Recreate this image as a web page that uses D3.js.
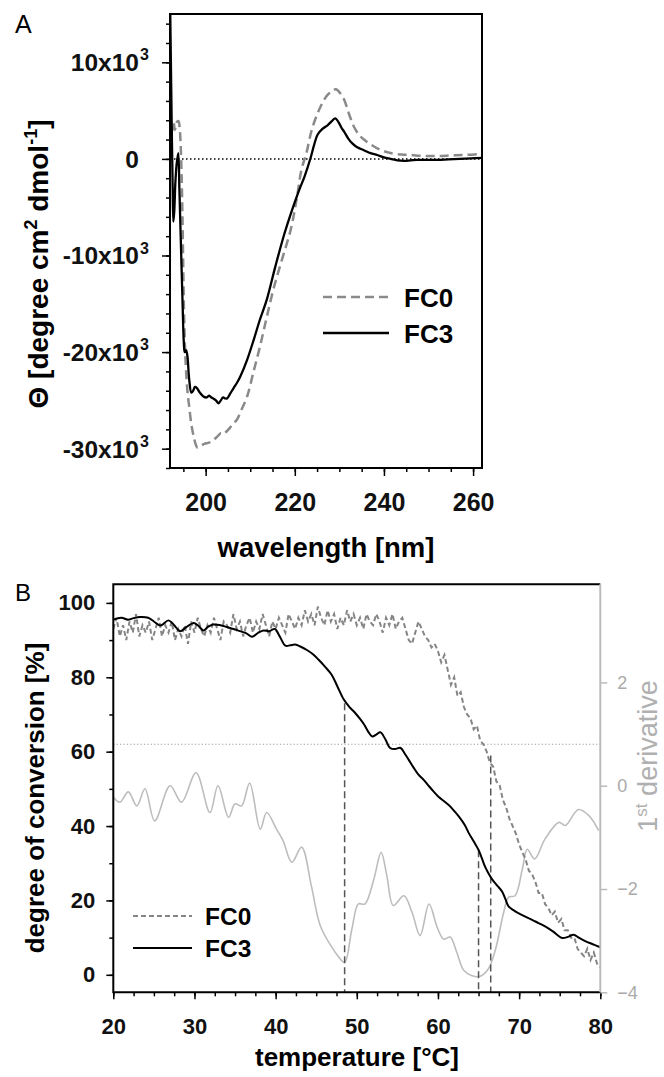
<!DOCTYPE html>
<html>
<head>
<meta charset="utf-8">
<script src="https://cdn.jsdelivr.net/npm/d3@7"></script>
<style>
  body { margin: 0; background: #fff; }
  svg { display: block; }
</style>
</head>
<body>
<script>
// ---- panel A: CD spectra (wavelength nm, theta) ----
const fc3Wl = [192.0, 192.2, 192.4, 192.6, 192.75, 192.95, 193.2, 193.5, 193.85, 194.1, 194.4, 194.8, 195.1, 195.3, 195.6, 195.9, 196.3, 196.8, 197.2, 197.6, 198.0, 198.7, 199.5, 200.2, 200.8, 201.3, 201.7, 202.3, 202.9, 203.4, 203.9, 204.4, 204.8, 205.5, 206.3, 207.0, 207.8, 209.3, 210.8, 212.2, 213.7, 215.6, 217.7, 219.9, 221.0, 222.2, 223.6, 224.3, 225.1, 226.2, 227.4, 228.3, 229.1, 229.8, 230.5, 231.1, 232.0, 232.9, 234.0, 235.5, 237.0, 238.5, 240.0, 241.5, 243.0, 244.5, 246.0, 247.5, 249.5, 252.0, 254.5, 257.0, 259.5, 262.0]
const fc3Theta = [17000, 10000, 3000, -3000, -6500, -5500, -2500, -500, 600, -3000, -8000, -14600, -19000, -20000, -19800, -20400, -22800, -24200, -24000, -23600, -23700, -24200, -24600, -24700, -24500, -24700, -24800, -25000, -25300, -25000, -24700, -24800, -24800, -24300, -23700, -23200, -22500, -20800, -18700, -16600, -14600, -11200, -7700, -4600, -3200, -1800, 200, 1400, 2500, 3100, 3500, 3900, 4200, 3800, 3200, 2800, 2100, 1600, 1200, 900, 600, 400, 150, 0, -150, -200, -150, -100, -100, -100, -50, 0, 50, 100]

const fc0Wl = [192.2, 192.5, 192.8, 193.1, 193.5, 193.9, 194.2, 194.5, 194.8, 195.0, 195.2, 195.5, 195.9, 196.3, 196.8, 197.3, 197.8, 198.2, 198.9, 199.7, 200.5, 201.2, 202.0, 202.7, 203.4, 203.9, 204.5, 205.5, 206.2, 207.0, 208.0, 209.3, 210.7, 212.2, 213.7, 215.2, 217.2, 219.1, 220.4, 221.5, 222.6, 223.8, 225.1, 226.2, 227.3, 228.3, 229.2, 230.2, 231.1, 232.2, 233.3, 234.4, 235.5, 237.0, 238.5, 240.0, 241.5, 244.0, 246.0, 249.0, 252.0, 255.0, 258.0, 262.0]
const fc0Theta = [2500, 3000, 3800, 3000, 3800, 3900, 3000, 0, -6000, -12000, -17000, -21000, -24000, -25600, -27500, -28700, -29600, -29900, -29700, -29500, -29400, -29300, -29000, -28700, -28400, -28500, -28300, -27800, -27400, -27000, -26000, -24600, -22100, -19400, -16400, -13500, -10300, -7300, -4200, -1100, 600, 3000, 4700, 5800, 6600, 7000, 7200, 6800, 6100, 4600, 3300, 2500, 2000, 1500, 1100, 800, 600, 450, 400, 300, 300, 350, 400, 500]

const aYTicks = [-30000, -20000, -10000, 0, 10000]
const aXTicks = [200, 220, 240, 260]
const legendNames = ['FC0', 'FC3']

// ---- panel B: melting curves (temperature C) ----
const fc0Temp = d3.range(20, 80.001, 0.4)
const fc0Conv = [
  93, 96, 91, 94, 90, 95, 92, 97, 91, 94,
  92, 95, 90, 93, 96, 91, 94, 92, 95, 90,
  93, 91, 94, 89, 95, 92, 96, 93, 91, 94,
  92, 96, 93, 90, 95, 94, 92, 97, 93, 95,
  91, 94, 96, 92, 95, 93, 97, 94, 91, 95,
  93, 96, 94, 92, 97, 95, 93, 96, 94, 98,
  95, 97, 94, 99, 96, 94, 98, 95, 97, 93,
  96, 94, 98, 95, 97, 94, 96, 93, 97, 95,
  94, 97, 95, 92, 96, 94, 97, 93, 95, 96,
  93, 90, 89, 92, 95, 93, 91, 90, 88, 89,
  87, 84, 86, 82, 78, 80, 75, 76, 72, 70,
  69, 66, 67, 63, 62, 60, 57, 56, 52, 51,
  47, 45, 42, 40, 38, 35, 33, 31, 28, 27,
  25, 22, 22, 19, 18, 16, 17, 14, 15, 12,
  12, 10, 10, 7, 6, 5, 7, 4, 6, 3, 2
]

const fc3Temp = [20.0, 21.0, 21.8, 22.5, 23.3, 24.3, 25.0, 25.8, 26.8, 27.5, 28.2, 29.0, 29.9, 30.5, 31.1, 31.7, 32.3, 33.2, 34.0, 34.8, 35.6, 36.4, 37.1, 37.8, 38.5, 39.2, 39.9, 40.5, 41.2, 41.8, 42.4, 43.1, 43.8, 44.6, 45.3, 46.1, 46.9, 47.6, 48.4, 49.1, 49.8, 50.4, 50.9, 51.4, 51.9, 52.4, 52.9, 53.5, 54.1, 54.7, 55.4, 55.9, 56.4, 57.0, 57.6, 58.3, 58.9, 59.5, 60.1, 60.8, 61.5, 62.1, 62.7, 63.3, 63.8, 64.4, 65.0, 65.4, 65.8, 66.2, 66.7, 67.3, 67.9, 68.3, 68.7, 69.3, 69.9, 70.7, 71.6, 72.4, 73.2, 74.2, 75.3, 76.0, 76.7, 77.4, 78.2, 79.0, 80.0]
const fc3Conv = [95.5, 96.0, 95.5, 95.9, 96.2, 96.0, 95.0, 93.9, 95.3, 94.0, 92.4, 93.5, 94.6, 93.8, 92.6, 93.6, 94.2, 94.0, 93.5, 93.0, 92.4, 91.8, 90.9, 91.9, 92.6, 92.4, 93.0, 91.0, 88.5, 88.6, 88.8, 88.2, 87.4, 86.2, 84.7, 82.8, 80.7, 77.6, 74.0, 72.0, 70.4, 68.8, 67.3, 65.4, 64.1, 64.6, 65.2, 63.4, 61.0, 60.7, 61.0, 59.5, 57.8, 55.7, 53.8, 52.3, 50.7, 49.2, 47.8, 46.6, 45.3, 43.8, 42.2, 40.3, 38.1, 35.9, 33.6, 31.4, 29.1, 27.4, 25.6, 24.0, 22.4, 20.4, 18.4, 17.4, 16.6, 15.7, 14.8, 13.9, 13.0, 11.6, 9.9, 10.2, 10.8, 9.9, 9.0, 8.3, 7.4]

const derivTemp = [20.0, 20.8, 21.85, 22.9, 23.9, 25.1, 27.0, 28.4, 30.2, 31.9, 32.9, 34.2, 35.0, 35.8, 36.8, 38.1, 38.9, 40.1, 40.9, 42.0, 43.2, 44.4, 45.5, 46.9, 47.7, 48.5, 49.4, 50.2, 51.0, 52.1, 53.0, 53.7, 54.5, 55.8, 56.8, 57.8, 58.9, 59.9, 60.7, 61.5, 62.3, 63.2, 64.2, 65.2, 66.2, 67.1, 68.1, 68.7, 69.5, 70.4, 71.0, 71.9, 73.2, 74.9, 75.7, 77.3, 78.6, 79.8]
const derivVal = [-0.22, -0.32, -0.12, -0.39, -0.06, -0.68, 0.0, -0.32, 0.25, -0.52, 0.0, -0.61, -0.35, -0.39, 0.05, -0.84, -0.52, -0.84, -1.06, -1.48, -1.19, -1.94, -2.71, -3.12, -3.3, -3.42, -2.77, -2.29, -2.29, -1.81, -1.29, -1.74, -2.32, -2.13, -2.45, -2.9, -2.29, -2.74, -2.97, -2.93, -3.22, -3.58, -3.68, -3.69, -3.55, -3.16, -2.45, -2.16, -2.13, -1.61, -1.23, -1.42, -1.03, -0.71, -0.77, -0.46, -0.58, -0.87]

const markTemp = [48.5, 65.0, 66.5]
const markTop = [73, 33.5, 59]
const refLevel = 62

const bLeftTicks = [0, 20, 40, 60, 80, 100]
const bRightTicks = [-4, -2, 0, 2]
const bXTicks = [20, 30, 40, 50, 60, 70, 80]

const font = "'Liberation Sans', Arial, Helvetica, sans-serif"
const zip = (a, b) => a.map((v, i) => [v, b[i]])

const svg = d3.select('body').append('svg')
  .attr('width', 664)
  .attr('height', 1077)
  .style('font-family', font)

const defs = svg.append('defs')

// ================= panel A =================
const xA = d3.scaleLinear().domain([192, 262]).range([170, 482])
const yA = d3.scaleLinear().domain([-32000, 15000]).range([468, 14])

defs.append('clipPath').attr('id', 'clipA').append('rect')
  .attr('x', 170).attr('y', 14).attr('width', 312).attr('height', 454)

svg.append('text').attr('x', 15).attr('y', 33)
  .attr('font-size', 25).text('A')

// minor ticks
svg.append('g').attr('transform', 'translate(0,468)')
  .call(d3.axisBottom(xA).tickValues(d3.range(195, 261, 5)).tickSize(4).tickFormat('').tickSizeOuter(0))
  .call(g => g.select('.domain').remove())
svg.append('g').attr('transform', 'translate(170,0)')
  .call(d3.axisLeft(yA).tickValues(d3.range(-32000, 15000, 2000)).tickSize(4).tickFormat('').tickSizeOuter(0))
  .call(g => g.select('.domain').remove())

// major x
svg.append('g').attr('transform', 'translate(0,468)')
  .call(d3.axisBottom(xA).tickValues(aXTicks).tickSize(8).tickPadding(17).tickSizeOuter(0))
  .call(g => g.select('.domain').remove())
  .call(g => g.selectAll('text').attr('font-size', 25).attr('font-weight', 'bold').attr('font-family', font).attr('fill', '#111'))

// major y with x10^3 labels
svg.append('g').attr('transform', 'translate(170,0)')
  .call(d3.axisLeft(yA).tickValues(aYTicks).tickSize(8).tickSizeOuter(0))
  .call(g => g.select('.domain').remove())
  .call(g => g.selectAll('.tick').each(function(d) {
    const t = d3.select(this)
    t.select('text').remove()
    t.append('text')
      .attr('x', -31).attr('dy', '0.34em')
      .attr('text-anchor', 'end')
      .attr('font-size', 24.5).attr('font-weight', 'bold').attr('font-family', font)
      .attr('fill', '#111')
      .text(d === 0 ? '0' : `${d / 1000}x10`)
    if (d !== 0) {
      t.append('text')
        .attr('x', -30).attr('dy', '-0.15em')
        .attr('text-anchor', 'start')
        .attr('font-size', 16).attr('font-weight', 'bold').attr('font-family', font)
        .attr('fill', '#111')
        .text('3')
    }
  }))

svg.selectAll('.tick line').attr('stroke-width', 1.5)

// zero line
svg.append('line')
  .attr('x1', xA(192)).attr('x2', xA(262))
  .attr('y1', yA(0)).attr('y2', yA(0))
  .attr('stroke', '#000').attr('stroke-width', 1.5)
  .attr('stroke-dasharray', '1.5,2.5')

const lineA = d3.line().x(d => xA(d[0])).y(d => yA(d[1])).curve(d3.curveCatmullRom)

svg.append('path')
  .datum(zip(fc0Wl, fc0Theta))
  .attr('clip-path', 'url(#clipA)')
  .attr('d', lineA)
  .attr('fill', 'none').attr('stroke', '#8a8a8a').attr('stroke-width', 2.5)
  .attr('stroke-dasharray', '9,5')

svg.append('path')
  .datum(zip(fc3Wl, fc3Theta))
  .attr('clip-path', 'url(#clipA)')
  .attr('d', lineA)
  .attr('fill', 'none').attr('stroke', '#000').attr('stroke-width', 2.3)

svg.append('rect')
  .attr('x', 170).attr('y', 14).attr('width', 312).attr('height', 454)
  .attr('fill', 'none').attr('stroke', '#000').attr('stroke-width', 2)

// legend A
const legA = svg.append('g')
legendNames.forEach((name, i) => {
  const y = 297 + i * 36
  legA.append('line')
    .attr('x1', 323).attr('x2', 389).attr('y1', y).attr('y2', y)
    .attr('stroke', i === 0 ? '#8a8a8a' : '#000')
    .attr('stroke-width', i === 0 ? 2.5 : 2.3)
    .attr('stroke-dasharray', i === 0 ? '9,5' : null)
  legA.append('text')
    .attr('x', 404).attr('y', y + 10)
    .attr('font-size', 26).attr('font-weight', 'bold')
    .text(name)
})

// axis titles A
svg.append('text')
  .attr('x', 326).attr('y', 557)
  .attr('text-anchor', 'middle')
  .attr('font-size', 27.5).attr('font-weight', 'bold')
  .text('wavelength [nm]')

const tA = svg.append('text')
  .attr('transform', 'translate(48,264) rotate(-90)')
  .attr('text-anchor', 'middle')
  .attr('font-size', 28).attr('font-weight', 'bold')
tA.append('tspan').text('\u0398 [degree cm')
tA.append('tspan').attr('dy', -11).attr('font-size', 18).text('2')
tA.append('tspan').attr('dy', 11).text(' dmol')
tA.append('tspan').attr('dy', -11).attr('font-size', 18).text('-1')
tA.append('tspan').attr('dy', 11).text(']')

// ================= panel B =================
const xB = d3.scaleLinear().domain([20, 80]).range([113.3, 600.3])
const yB = d3.scaleLinear().domain([-4.7, 105]).range([992.3, 584.3])
const yR = d3.scaleLinear().domain([-4, 3.9]).range([992.3, 584.3])

defs.append('clipPath').attr('id', 'clipB').append('rect')
  .attr('x', 113.3).attr('y', 584.3).attr('width', 487).attr('height', 408)

svg.append('text').attr('x', 15).attr('y', 601)
  .attr('font-size', 24).text('B')

// reference level
svg.append('line')
  .attr('x1', xB(20)).attr('x2', xB(80))
  .attr('y1', yB(refLevel)).attr('y2', yB(refLevel))
  .attr('stroke', '#999').attr('stroke-width', 1.2)
  .attr('stroke-dasharray', '1.2,2.2')

// derivative
svg.append('path')
  .datum(zip(derivTemp, derivVal))
  .attr('clip-path', 'url(#clipB)')
  .attr('d', d3.line().x(d => xB(d[0])).y(d => yR(d[1])).curve(d3.curveCatmullRom))
  .attr('fill', 'none').attr('stroke', '#bdbdbd').attr('stroke-width', 1.6)

// marker lines
svg.append('g').selectAll('line')
  .data(zip(markTemp, markTop))
  .join('line')
  .attr('x1', d => xB(d[0])).attr('x2', d => xB(d[0]))
  .attr('y1', d => yB(d[1])).attr('y2', yB.range()[0])
  .attr('stroke', '#555').attr('stroke-width', 1.5)
  .attr('stroke-dasharray', '7,4')

// FC0 noisy
svg.append('path')
  .datum(zip(fc0Temp, fc0Conv))
  .attr('clip-path', 'url(#clipB)')
  .attr('d', d3.line().x(d => xB(d[0])).y(d => yB(d[1])))
  .attr('fill', 'none').attr('stroke', '#858585').attr('stroke-width', 2)
  .attr('stroke-dasharray', '5,3')

// FC3
svg.append('path')
  .datum(zip(fc3Temp, fc3Conv))
  .attr('clip-path', 'url(#clipB)')
  .attr('d', d3.line().x(d => xB(d[0])).y(d => yB(d[1])).curve(d3.curveCatmullRom))
  .attr('fill', 'none').attr('stroke', '#000').attr('stroke-width', 2)

// axes B
svg.append('g').attr('transform', 'translate(0,992.3)')
  .call(d3.axisBottom(xB).tickValues(d3.range(20, 80.1, 2.5)).tickSize(4).tickFormat('').tickSizeOuter(0))
  .call(g => g.select('.domain').remove())
svg.append('g').attr('transform', 'translate(113.3,0)')
  .call(d3.axisLeft(yB).tickValues(d3.range(0, 101, 10)).tickSize(4).tickFormat('').tickSizeOuter(0))
  .call(g => g.select('.domain').remove())

svg.append('g').attr('transform', 'translate(0,992.3)')
  .call(d3.axisBottom(xB).tickValues(bXTicks).tickSize(7).tickPadding(19).tickSizeOuter(0))
  .call(g => g.select('.domain').remove())
  .call(g => g.selectAll('text').attr('font-size', 22).attr('font-weight', 'bold').attr('font-family', font).attr('fill', '#111'))

svg.append('g').attr('transform', 'translate(113.3,0)')
  .call(d3.axisLeft(yB).tickValues(bLeftTicks).tickSize(7).tickPadding(11).tickSizeOuter(0))
  .call(g => g.select('.domain').remove())
  .call(g => g.selectAll('text').attr('font-size', 22).attr('font-weight', 'bold').attr('font-family', font).attr('fill', '#111'))

svg.append('g').attr('transform', 'translate(600.3,0)')
  .call(d3.axisRight(yR).tickValues(bRightTicks).tickSize(7).tickPadding(10).tickSizeOuter(0))
  .call(g => g.select('.domain').remove())
  .call(g => g.selectAll('line').attr('stroke', '#bbb'))
  .call(g => g.selectAll('text').attr('font-size', 18).attr('font-family', font).attr('fill', '#aaa'))

svg.selectAll('.tick line').attr('stroke-width', 1.5)

// frame B
svg.append('path')
  .attr('d', `M600.3,584.3H113.3V992.3H600.3`)
  .attr('fill', 'none').attr('stroke', '#000').attr('stroke-width', 2)
svg.append('line')
  .attr('x1', 600.3).attr('x2', 600.3).attr('y1', 584.3).attr('y2', 992.3)
  .attr('stroke', '#bbb').attr('stroke-width', 2)

// legend B
const legB = svg.append('g')
legendNames.forEach((name, i) => {
  const y = 916 + i * 32
  legB.append('line')
    .attr('x1', 133).attr('x2', 192).attr('y1', y).attr('y2', y)
    .attr('stroke', i === 0 ? '#858585' : '#000')
    .attr('stroke-width', 2)
    .attr('stroke-dasharray', i === 0 ? '5,3' : null)
  legB.append('text')
    .attr('x', 205).attr('y', y + 9)
    .attr('font-size', 24.5).attr('font-weight', 'bold')
    .text(name)
})

// axis titles B
svg.append('text')
  .attr('x', 357).attr('y', 1066)
  .attr('text-anchor', 'middle')
  .attr('font-size', 26).attr('font-weight', 'bold')
  .text('temperature [\u00B0C]')

svg.append('text')
  .attr('transform', 'translate(44,798) rotate(-90)')
  .attr('text-anchor', 'middle')
  .attr('font-size', 26).attr('font-weight', 'bold')
  .text('degree of conversion [%]')

const tR = svg.append('text')
  .attr('transform', 'translate(657,756) rotate(-90)')
  .attr('text-anchor', 'middle')
  .attr('font-size', 27).attr('fill', '#b0b0b0')
tR.append('tspan').text('1')
tR.append('tspan').attr('dy', -10).attr('font-size', 17).text('st')
tR.append('tspan').attr('dy', 10).text(' derivative')
</script>
</body>
</html>
